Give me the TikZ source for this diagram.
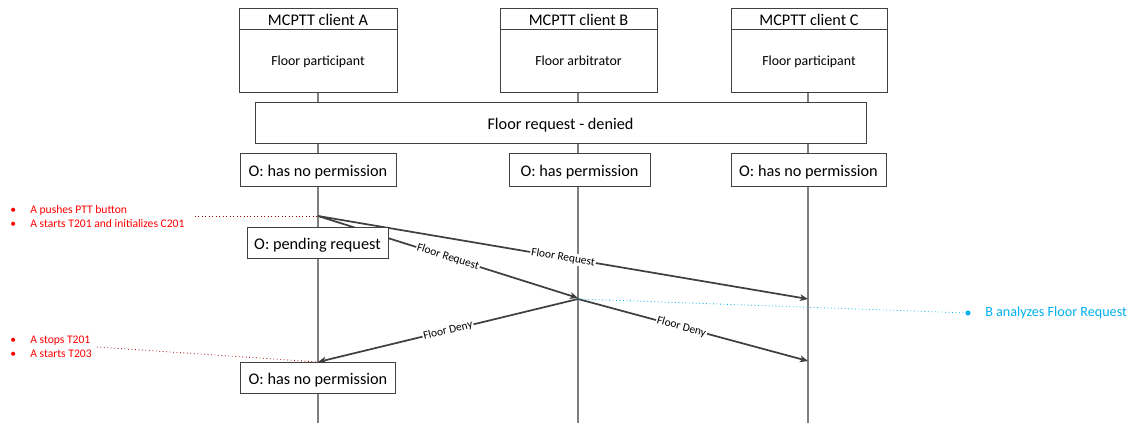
\documentclass[tikz,border=0pt]{standalone}
\usepackage{fontspec}
\setmainfont{Carlito}
\usetikzlibrary{arrows.meta}
\definecolor{lifegray}{HTML}{7F7F7F}
\definecolor{boxgray}{HTML}{404040}
\definecolor{msggray}{HTML}{404040}
\definecolor{notered}{HTML}{FF0000}
\definecolor{notedot}{HTML}{A00000}
\definecolor{noteblue}{HTML}{00B0F0}
\newcommand\bulletcell{\makebox[15pt][l]{\textbullet}}
\begin{document}
\begin{tikzpicture}[x=0.75pt,y=-0.75pt,
  box/.style={draw=boxgray, fill=white, line width=0.7pt, inner sep=0pt,
              font=\fontsize{12.2}{14}\selectfont,
              text height=12.2pt, text depth=2.2pt},
  bodybox/.style={box, font=\fontsize{10.4}{12}\selectfont,
              text height=10pt, text depth=1.9pt},
  lifeline/.style={draw=lifegray, line width=0.8pt},
  msg/.style={draw=msggray, line width=1.3pt, -{Stealth[length=6pt,width=5pt,inset=1.5pt]}},
  msglabel/.style={sloped, fill=white, inner sep=0.8pt, text=black,
                   font=\fontsize{8.6}{9}\selectfont},
  rednote/.style={text=notered, align=left, anchor=west, inner sep=0pt,
                  font=\fontsize{8.7}{10.5}\selectfont},
  redlink/.style={draw=notedot, line width=0.6pt, dotted},
  bluelink/.style={draw=noteblue, line width=0.6pt, dotted},
  bluenote/.style={text=noteblue, anchor=west, inner sep=0pt,
                   font=\fontsize{10.6}{12}\selectfont}]
\useasboundingbox (0,0) rectangle (1141,423);

% lifeline ends
\coordinate (Aend) at (318,423);
\coordinate (Bend) at (578,423);
\coordinate (Cend) at (808,423);
\coordinate (Atop) at (318,92);
\coordinate (Btop) at (578,92);
\coordinate (Ctop) at (808,92);

% lifelines (drawn first, boxes cover them)
\draw[lifeline] (Atop) -- (Aend);
\draw[lifeline] (Btop) -- (Bend);
\draw[lifeline] (Ctop) -- (Cend);

% client boxes: header + body
\node[box, minimum width=158*0.75pt, minimum height=21*0.75pt] (Ahead) at (318,18.5) {MCPTT client A};
\node[bodybox, minimum width=158*0.75pt, minimum height=63*0.75pt] (Abody) at (318,60.5) {Floor participant};
\node[box, minimum width=157*0.75pt, minimum height=21*0.75pt] (Bhead) at (578.5,18.5) {MCPTT client B};
\node[bodybox, minimum width=157*0.75pt, minimum height=63*0.75pt] (Bbody) at (578.5,60.5) {Floor arbitrator};
\node[box, minimum width=156*0.75pt, minimum height=21*0.75pt] (Chead) at (809,18.5) {MCPTT client C};
\node[bodybox, minimum width=156*0.75pt, minimum height=63*0.75pt] (Cbody) at (809,60.5) {Floor participant};

% procedure title
\node[box, minimum width=611*0.75pt, minimum height=41*0.75pt] (title) at (560.5,122.5) {Floor request - denied};

% initial states
\node[box, minimum width=156*0.75pt, minimum height=33*0.75pt] (Ast1) at (318,169.5) {O: has no permission};
\node[box, minimum width=141*0.75pt, minimum height=33*0.75pt] (Bst1) at (579.5,169.5) {O: has permission};
\node[box, minimum width=155*0.75pt, minimum height=33*0.75pt] (Cst1) at (808.5,169.5) {O: has no permission};

% message points on lifelines
\coordinate (Asend) at (318,216);
\coordinate (Brecv) at (578,298);
\coordinate (Bsend) at (578,299);
\coordinate (Crecv1) at (808,299);
\coordinate (Crecv2) at (808,361);
\coordinate (Arecv) at (318,362);

% messages
\draw[msg] (Asend) -- node[msglabel, pos=0.5] {Floor Request} (Crecv1);
\draw[msg] (Asend) -- node[msglabel, pos=0.5] {Floor Request} (Brecv);
\draw[msg] (Bsend) -- node[msglabel, pos=0.45] {Floor Deny} (Crecv2);
\draw[msg] (Bsend) -- node[msglabel, pos=0.5] {Floor Deny} (Arecv);

% intermediate and final states of A
\node[box, minimum width=141*0.75pt, minimum height=31*0.75pt] (Ast2) at (317.5,242.5) {O: pending request};
\node[box, minimum width=155*0.75pt, minimum height=31*0.75pt] (Ast3) at (318,377.5) {O: has no permission};

% annotations for A
\node[rednote] (noteA1) at (10,216.5) {%
  \bulletcell A pushes PTT button\\
  \bulletcell A starts T201 and initializes C201};
\coordinate (noteA1end) at (195,216);
\draw[redlink] (noteA1end) -- (Asend);

\node[rednote] (noteA2) at (10,346.5) {%
  \bulletcell A stops T201\\
  \bulletcell A starts T203};
\coordinate (noteA2end) at (97,347);
\draw[redlink] (noteA2end) -- (Arecv);

% annotation for B
\coordinate (noteBdot) at (968,313);
\draw[bluelink] (Bsend) -- (noteBdot);
\fill[noteblue] (noteBdot) circle (1.9pt);
\node[bluenote] (noteB) at (985,313) {B analyzes Floor Request};
\end{tikzpicture}
\end{document}
